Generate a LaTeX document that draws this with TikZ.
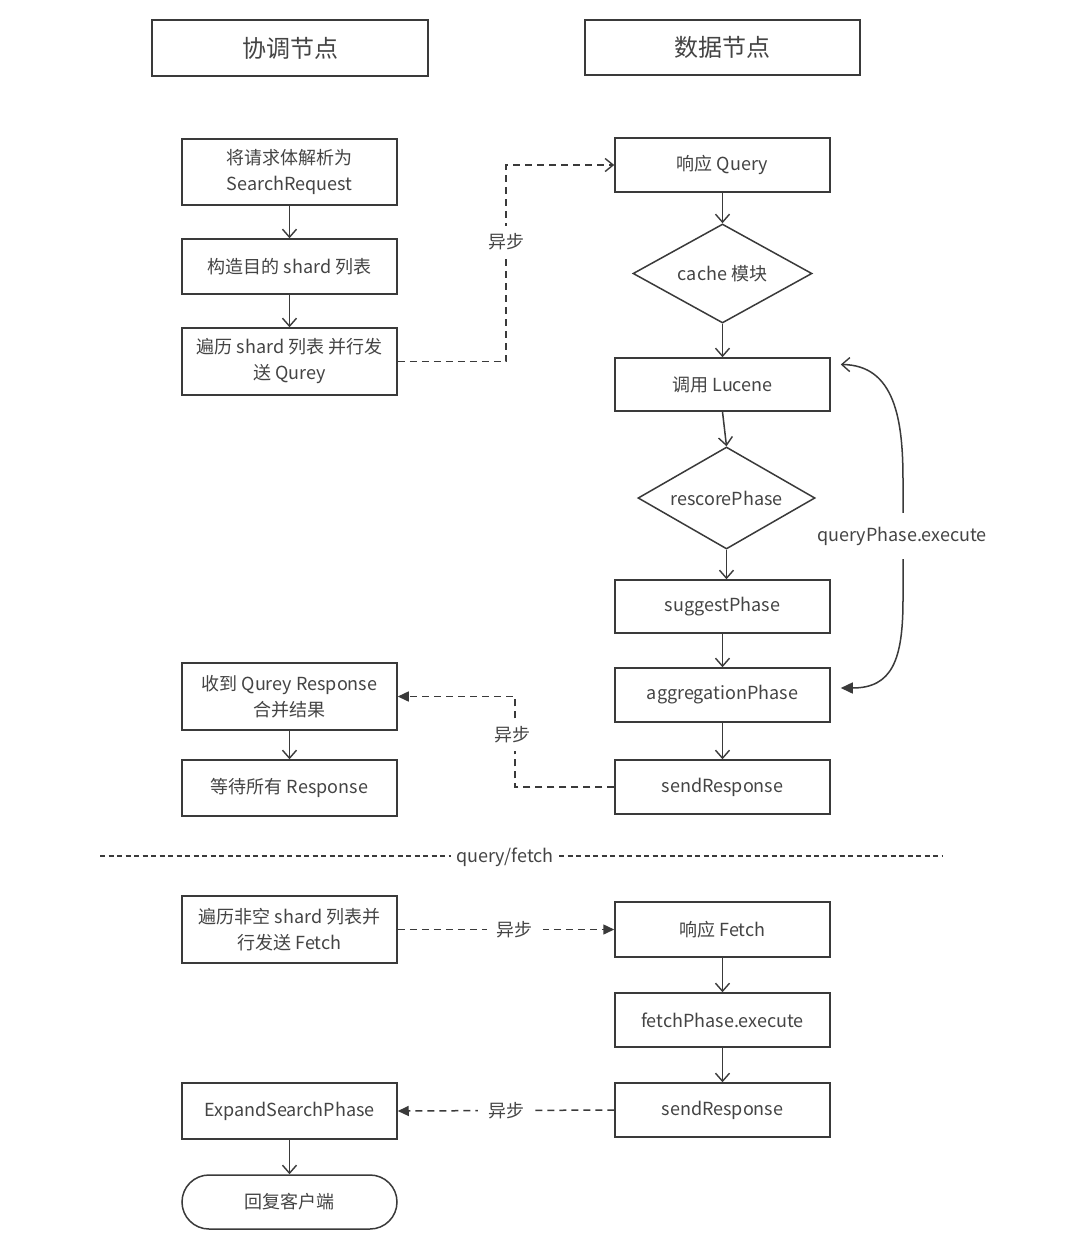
\documentclass[tikz,border=0pt]{standalone}
\usepackage{fontspec}
\setmainfont{Noto Sans CJK SC}
\usetikzlibrary{shapes.geometric,arrows.meta}
\definecolor{ln}{HTML}{3A3A3A}
\definecolor{tx}{HTML}{444444}
\tikzset{
  base/.style={draw=ln, line width=1.5pt, text=tx, font=\fontsize{18pt}{26pt}\selectfont, align=center, inner sep=0pt},
  hdr/.style={base, line width=2.2pt, minimum width=276pt, minimum height=56pt, font=\fontsize{24pt}{30pt}\selectfont},
  box/.style={base, minimum width=215pt},
  dia/.style={base, diamond, aspect=1.8},
  term/.style={base, rounded corners=27pt, minimum width=215pt, minimum height=54pt},
  flow/.style={draw=ln, line width=1.5pt, -{Straight Barb[length=8pt,width=14pt,line width=1.4pt]}},
  async/.style={draw=ln, line width=1.5pt, dash pattern=on 7pt off 5pt},
  lbl/.style={fill=white, text=tx, font=\fontsize{18pt}{26pt}\selectfont, inner xsep=4pt, inner ysep=8pt},
  hlbl/.style={lbl, inner xsep=10pt, inner ysep=3pt},
}
\begin{document}
\begin{tikzpicture}[x=1pt,y=-1pt]
\useasboundingbox (0,0) rectangle (1080,1243);
\fill[white] (0,0) rectangle (1080,1243);

% headers
\node[hdr] (h1) at (290,48) {协调节点};
\node[hdr, minimum width=275pt, minimum height=55pt] (h2) at (722.5,47.5) {数据节点};

% left column
\node[box, minimum height=66pt] (b1) at (289.5,172) {将请求体解析为\\SearchRequest};
\node[box, minimum height=55pt] (b2) at (289.5,266.5) {构造目的 shard 列表};
\node[box, minimum height=67pt] (b3) at (289.5,361.5) {遍历 shard 列表 并行发\\送 Qurey};
\node[box, minimum height=67pt] (b4) at (289.5,696.5) {收到 Qurey Response\\合并结果};
\node[box, minimum height=56pt] (b5) at (289.5,788) {等待所有 Response};
\node[box, minimum height=67pt] (b6) at (289.5,929.5) {遍历非空 shard 列表并\\行发送 Fetch};
\node[box, minimum height=56pt] (b7) at (289.5,1111) {ExpandSearchPhase};
\node[term] (b8) at (289.5,1202) {回复客户端};

% right column
\node[box, minimum height=54pt] (r1) at (722.5,165) {响应 Query};
\node[dia, minimum width=179pt, minimum height=99pt] (d1) at (722.5,273.5) {cache 模块};
\node[box, minimum height=53pt] (r2) at (722.5,384.5) {调用 Lucene};
\node[dia, minimum width=177pt, minimum height=102pt] (d2) at (726.5,498) {rescorePhase};
\node[box, minimum height=53pt] (r3) at (722.5,606.5) {suggestPhase};
\node[box, minimum height=54pt] (r4) at (722.5,695) {aggregationPhase};
\node[box, minimum height=54pt] (r5) at (722.5,787) {sendResponse};
\node[box, minimum height=55pt] (r6) at (722.5,929.5) {响应 Fetch};
\node[box, minimum height=54pt] (r7) at (722.5,1020) {fetchPhase.execute};
\node[box, minimum height=54pt] (r8) at (722.5,1110) {sendResponse};

% solid flow arrows
\draw[flow] (b1) -- (b2);
\draw[flow] (b2) -- (b3);
\draw[flow] (b4) -- (b5);
\draw[flow] (b7) -- (b8);
\draw[flow] (r1) -- (d1);
\draw[flow] (d1.south) -- (r2.north -| d1.south);
\draw[flow] (r2.south) -- (d2.north);
\draw[flow] (d2.south) -- (r3.north -| d2.south);
\draw[flow] (r3) -- (r4);
\draw[flow] (r4) -- (r5);
\draw[flow] (r6) -- (r7);
\draw[flow] (r7) -- (r8);

% async connectors
\coordinate (a1) at (506,242);
\draw[async, -{Straight Barb[length=8pt,width=13pt,line width=1.4pt]}] (b3.east) -| (a1) |- (r1.west);
\node[lbl] (l1) at (a1) {异步};

\coordinate (a2) at (515,735);
\draw[async, -{Triangle[length=11pt,width=10pt]}] (r5.west) -| (a2) |- (b4.east);
\node[lbl] (l2) at (512,735) {异步};

\draw[async, -{Triangle[length=11pt,width=10pt]}] (b6.east) -- (r6.west)
  node[hlbl, pos=0.54] (l3) {异步};
\draw[async, -{Triangle[length=11pt,width=10pt]}] (r8.west) -- (b7.east)
  node[hlbl, pos=0.5] (l4) {异步};

% query phase loop
\draw[draw=ln, line width=1.5pt, {Straight Barb[length=8pt,width=14pt,line width=1.4pt]}-{Triangle[length=12pt,width=11pt]}]
  ([xshift=10pt,yshift=20pt]r2.east) .. controls (895,365) and (903,420) .. (903,480)
  -- (903,600) .. controls (903,660) and (892,688) .. ([xshift=10pt,yshift=7pt]r4.east);
\node[lbl, inner ysep=14pt] (qp) at (902,536) {queryPhase.execute};

% divider
\coordinate (dv1) at (100,856);
\coordinate (dv2) at (943,856);
\draw[draw=ln, line width=1.4pt, dash pattern=on 5pt off 3.5pt] (dv1) -- (dv2);
\node[hlbl, inner xsep=5pt] (qf) at (505,857) {query/fetch};
\end{tikzpicture}
\end{document}
